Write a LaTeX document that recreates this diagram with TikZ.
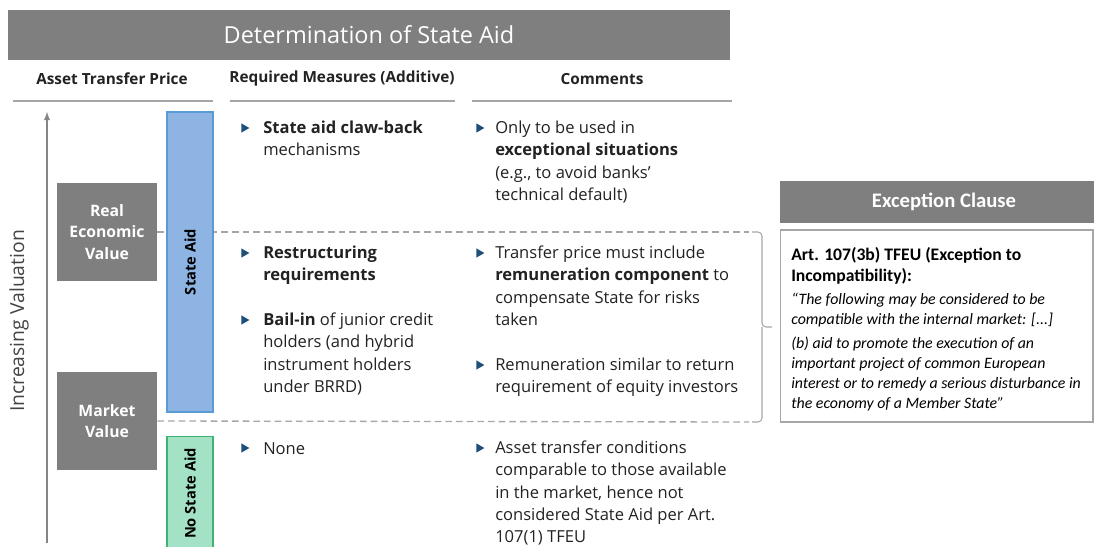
\documentclass[tikz,border=0pt]{standalone}
\usepackage{fontspec}
\setmainfont{Open Sans}
\newfontfamily\calfont{Carlito}
\usetikzlibrary{shapes.geometric}

\definecolor{boxgray}{HTML}{7F7F7F}
\definecolor{linegray}{HTML}{A6A6A6}
\definecolor{sablue}{HTML}{8DB4E2}
\definecolor{saedge}{HTML}{5B9BD5}
\definecolor{nsagreen}{HTML}{A3E2C5}
\definecolor{nsaedge}{HTML}{3CB371}
\definecolor{bulblue}{HTML}{1F4E79}
\definecolor{txt}{HTML}{222222}

\begin{document}
\begin{tikzpicture}[x=0.75pt, y=-0.75pt, >=latex,
  graybox/.style={fill=boxgray, text=white, inner sep=0, align=center},
  colhead/.style={font=\bfseries\fontsize{11.5}{13}\selectfont, inner sep=0, text=txt},
  headline/.style={linegray, line width=1.5pt},
  valbox/.style={graybox, minimum width=75pt, minimum height=73pt, font=\bfseries\fontsize{11.8}{16}\selectfont},
  bar/.style={rotate=90, minimum height=34.5pt, inner sep=0, line width=0.8pt, font=\bfseries\fontsize{11}{13}\selectfont},
  level/.style={linegray, line width=1pt, dash pattern=on 5pt off 3pt},
  itemtext/.style={anchor=north west, yshift=10pt, inner sep=0, align=left, execute at begin node={\rule{0pt}{10pt}}, font=\fontsize{12.4}{16.7}\selectfont, text=txt},
  bul/.style={regular polygon, regular polygon sides=3, shape border rotate=-90, fill=bulblue, inner sep=0, minimum size=8pt},
  exttext/.style={anchor=north west, yshift=9pt, inner sep=0, align=left, execute at begin node={\rule{0pt}{9pt}}},
  quote/.style={exttext, font=\calfont\itshape\fontsize{11.9}{15}\selectfont}
]
  \useasboundingbox (0,0) rectangle (1094,546);

  % title and column heads
  \node[graybox, minimum width=541.5pt, minimum height=37.5pt, font=\fontsize{17.6}{20}\selectfont] (title) at (369,35) {Determination of State Aid};
  \node[colhead] (hprice) at (112,79) {Asset Transfer Price};
  \node[colhead] (hmeas) at (342,79) {Required Measures (Additive)};
  \node[colhead] (hcom) at (602,79) {Comments};
  \draw[headline] (13,101) -- (213,101);
  \draw[headline] (230,101) -- (455,101);
  \draw[headline] (472,101) -- (732,101);

  % valuation axis
  \coordinate (vbot) at (47,543);
  \coordinate (vtop) at (47,112);
  \draw[->, linegray!80!black, line width=1.1pt] (vbot) -- (vtop);
  \node[rotate=90, font=\fontsize{14.5}{16}\selectfont, text=txt!85] (incval) at (19,321) {Increasing Valuation};

  \node[valbox] (rev) at (107,232) {Real\\Economic\\Value};
  \node[valbox] (mv) at (107,421) {Market\\Value};

  % price levels
  \coordinate (lev1) at (749,232);
  \coordinate (lev2) at (749,422);
  \draw[level] (rev.east) -- (lev1);
  \draw[level] (mv.east) -- (lev2);

  \node[bar, fill=sablue, draw=saedge, minimum width=225pt] (sa) at (190,262) {State Aid};
  \node[bar, fill=nsagreen, draw=nsaedge, minimum width=86pt] (nsa) at (190,493.5) {No State Aid};

  % required measures
  \node[itemtext] (m1) at (263,134) {\textbf{State aid claw-back}\\mechanisms};
  \node[itemtext] (m2) at (263,259) {\textbf{Restructuring}\\\textbf{requirements}};
  \node[itemtext] (m3) at (263,326) {\textbf{Bail-in} of junior credit\\holders (and hybrid\\instrument holders\\under BRRD)};
  \node[itemtext] (m4) at (263,454) {None};

  % comments
  \node[itemtext] (c1) at (495,134) {Only to be used in\\\textbf{exceptional situations}\\(e.g., to avoid banks’\\technical default)};
  \node[itemtext] (c2) at (495,259) {Transfer price must include\\\textbf{remuneration component} to\\compensate State for risks\\taken};
  \node[itemtext] (c3) at (495,371) {Remuneration similar to return\\requirement of equity investors};
  \node[itemtext] (c4) at (495,454) {Asset transfer conditions\\comparable to those available\\in the market, hence not\\considered State Aid per Art.\\107(1) TFEU};

  \node[bul] (bm1) at (244,128) {};
  \node[bul] (bm2) at (244,253) {};
  \node[bul] (bm3) at (244,320) {};
  \node[bul] (bm4) at (244,448) {};
  \node[bul] (bc1) at (479,128) {};
  \node[bul] (bc2) at (479,253) {};
  \node[bul] (bc3) at (479,365) {};
  \node[bul] (bc4) at (479,448) {};

  % exception clause
  \coordinate (brtop) at (752,232);
  \coordinate (brbot) at (752,422);
  \coordinate (brmid) at (762,327);
  \coordinate (brtip) at (772,327);
  \draw[linegray, line width=0.8pt, rounded corners=3pt] (brtop) -| (brmid) -- (brtip);
  \draw[linegray, line width=0.8pt, rounded corners=3pt] (brbot) -| (brmid);

  \node[graybox, minimum width=246pt, minimum height=31.5pt, font=\calfont\bfseries\fontsize{15.5}{17}\selectfont] (exhead) at (944,202) {Exception Clause};
  \draw[linegray, line width=0.8pt] (780.5,230) rectangle (1093,422);
  \node[exttext, font=\calfont\bfseries\fontsize{13.2}{15.8}\selectfont] (art) at (791,259) {Art. 107(3b) TFEU (Exception to\\Incompatibility):};
  \node[quote] (quote) at (791,305) {“The following may be considered to be\\compatible with the internal market: [...]\\[3pt](b) aid to promote the execution of an\\important project of common European\\interest or to remedy a serious disturbance in\\the economy of a Member State”};
\end{tikzpicture}
\end{document}
